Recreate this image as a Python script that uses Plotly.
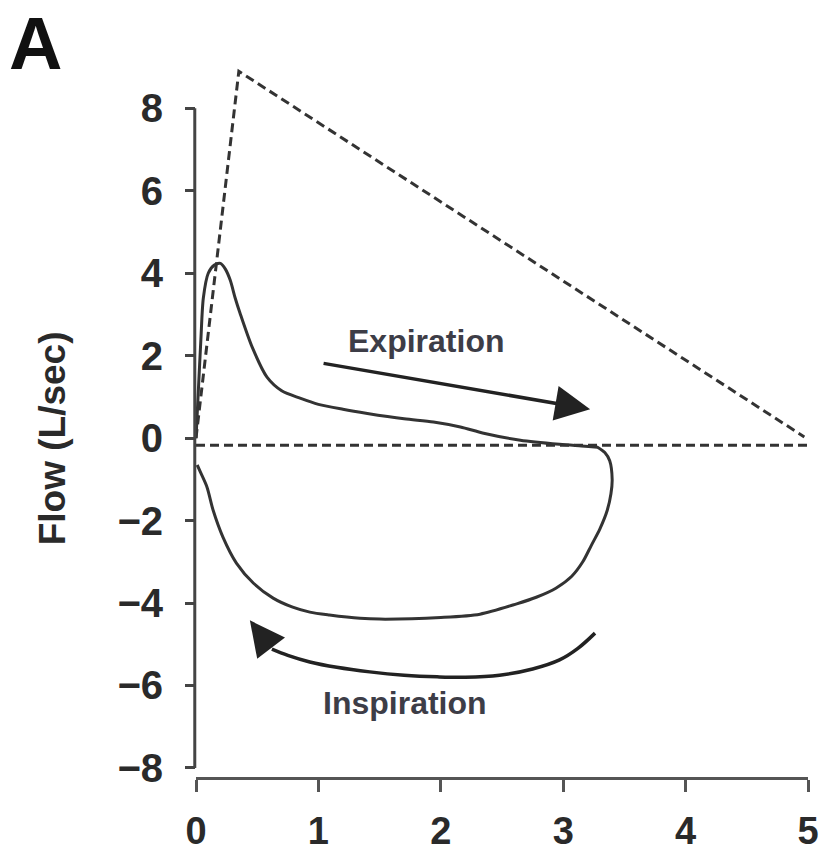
import plotly.graph_objects as go

# Flow-volume loop (expiration: upper limb, inspiration: lower limb)
exp_volume = [0.0, 0.02, 0.04, 0.06, 0.10, 0.15, 0.20, 0.24, 0.28, 0.32, 0.36, 0.46, 0.58, 0.70,
              0.85, 1.0, 1.2, 1.4, 1.7, 1.94, 2.16, 2.35, 2.65, 2.97, 3.15, 3.28]
exp_flow = [0.0, 1.2, 2.4, 3.4, 4.0, 4.2, 4.24, 4.1, 3.83, 3.4, 3.03, 2.2, 1.48, 1.15,
            0.97, 0.82, 0.7, 0.6, 0.47, 0.39, 0.27, 0.12, -0.05, -0.15, -0.19, -0.22]
insp_volume = [3.28, 3.34, 3.38, 3.40, 3.39, 3.36, 3.30, 3.23, 3.16, 3.07, 2.94, 2.78, 2.62,
               2.32, 2.0, 1.5, 1.34, 1.09, 0.93, 0.79, 0.63, 0.47, 0.33, 0.22, 0.14, 0.09, 0.04, 0.01]
insp_flow = [-0.22, -0.35, -0.55, -1.0, -1.35, -1.75, -2.2, -2.6, -3.0, -3.35, -3.64, -3.86, -4.02,
             -4.27, -4.35, -4.39, -4.37, -4.29, -4.22, -4.1, -3.88, -3.52, -3.03, -2.4, -1.75, -1.19, -0.85, -0.65]

# Predicted envelope (dashed)
env_volume = [0.0, 0.35, 4.97]
env_flow = [0.0, 8.9, 0.03]
base_volume = [0.0, 5.0]
base_flow = [-0.17, -0.17]

# Arrows
exp_arrow_tail = (1.03, 1.82)
exp_arrow_head = (3.22, 0.70)
insp_arrow_volume = [3.26, 3.12, 2.97, 2.75, 2.48, 2.2, 1.97, 1.7, 1.42, 1.15, 0.93, 0.75, 0.62]
insp_arrow_flow = [-4.73, -5.1, -5.38, -5.6, -5.75, -5.8, -5.79, -5.75, -5.67, -5.56, -5.43, -5.27, -5.12]
insp_arrow_tip = (0.44, -4.42)

x_ticks = [0, 1, 2, 3, 4, 5]
y_ticks = [-8, -6, -4, -2, 0, 2, 4, 6, 8]

ink = "#333333"
fig = go.Figure()
fig.add_trace(go.Scatter(x=env_volume, y=env_flow, mode="lines",
                         line=dict(color=ink, width=3, dash="9px,5px")))
fig.add_trace(go.Scatter(x=base_volume, y=base_flow, mode="lines",
                         line=dict(color=ink, width=3, dash="9px,5px")))
fig.add_trace(go.Scatter(x=exp_volume + insp_volume, y=exp_flow + insp_flow, mode="lines",
                         line=dict(color=ink, width=3, shape="spline", smoothing=0.8)))
fig.add_trace(go.Scatter(x=insp_arrow_volume, y=insp_arrow_flow, mode="lines",
                         line=dict(color="#222222", width=3.5, shape="spline")))

fig.add_annotation(x=exp_arrow_head[0], y=exp_arrow_head[1], ax=exp_arrow_tail[0], ay=exp_arrow_tail[1],
                   xref="x", yref="y", axref="x", ayref="y", text="", showarrow=True,
                   arrowhead=2, arrowwidth=3.5, arrowsize=2, arrowcolor="#222222")
fig.add_annotation(x=insp_arrow_tip[0], y=insp_arrow_tip[1],
                   ax=insp_arrow_volume[-1], ay=insp_arrow_flow[-1],
                   xref="x", yref="y", axref="x", ayref="y", text="", showarrow=True,
                   arrowhead=2, arrowwidth=3.5, arrowsize=2, arrowcolor="#222222")

fig.add_annotation(x=1.88, y=2.35, xref="x", yref="y", text="Expiration", showarrow=False,
                   font=dict(family="Liberation Sans, Arial", size=32, color="#3d3d47", weight="bold"))
fig.add_annotation(x=1.71, y=-6.42, xref="x", yref="y", text="Inspiration", showarrow=False,
                   font=dict(family="Liberation Sans, Arial", size=32, color="#3d3d47", weight="bold"))

fig.add_annotation(x=-0.235, y=0.0, xref="paper", yref="y", text="Flow (L/sec)", showarrow=False,
                   textangle=-90, xanchor="center", yanchor="middle",
                   font=dict(family="Liberation Sans, Arial", size=37, color="#2a2a2a", weight="bold"))
fig.add_annotation(x=-0.262, y=1.0273, xref="paper", yref="paper", text="A", showarrow=False,
                   xanchor="center", yanchor="middle",
                   font=dict(family="Liberation Sans, Arial", size=74, color="#111111", weight="bold"))

# y-axis spine from -8 to 8
fig.add_shape(type="line", xref="paper", yref="y", x0=-0.002, x1=-0.002, y0=-8, y1=8,
              line=dict(color="#444444", width=3))

fig.update_layout(
    width=823, height=857,
    margin=dict(l=196, r=15, t=63, b=80, autoexpand=False),
    paper_bgcolor="white", plot_bgcolor="white",
    showlegend=False, hovermode=False,
    xaxis=dict(range=[0, 5], tickvals=x_ticks, ticktext=[str(v) for v in x_ticks],
               automargin=False,
               showgrid=False, zeroline=False, showline=True, linecolor="#555555", linewidth=3,
               ticks="outside", ticklen=12, tickwidth=2.5, tickcolor="#555555",
               ticklabelstandoff=6,
               tickfont=dict(family="Liberation Sans, Arial", size=38, color="#2a2a2a", weight="bold")),
    yaxis=dict(range=[-8.22, 9.1], tickvals=y_ticks,
               ticktext=[("\u2212" + str(-v)) if v < 0 else str(v) for v in y_ticks],
               automargin=False,
               showgrid=False, zeroline=False, showline=False,
               ticks="outside", ticklen=10, tickwidth=2.5, tickcolor="#444444",
               ticklabelstandoff=14,
               tickfont=dict(family="Liberation Sans, Arial", size=40, color="#2a2a2a", weight="bold")),
)

fig.write_html("out.html", config={"displayModeBar": False})
